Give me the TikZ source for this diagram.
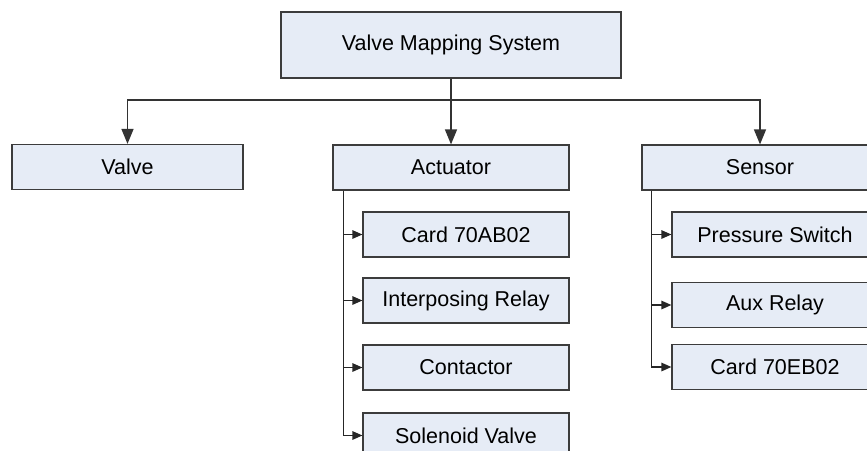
\documentclass[tikz,border=0pt]{standalone}
\usepackage{fontspec}
\setmainfont{Liberation Sans}
\usetikzlibrary{arrows.meta}
\definecolor{boxfill}{RGB}{230,236,246}
\definecolor{boxline}{RGB}{60,60,60}
\begin{document}
\begin{tikzpicture}[x=1pt, y=-1pt,
    block/.style ={rectangle, draw=boxline, line width=1.2pt, fill=boxfill, inner sep=0pt,
                   minimum height=45pt, font=\fontsize{21.5}{25}\selectfont},
    link/.style ={draw=black!80, line width=1.4pt, -{Triangle[length=15pt,width=12pt]}},
    sublink/.style ={draw=black!85, line width=1.3pt, -{Triangle[length=10pt,width=8.5pt]}}]
   \useasboundingbox (0,0) rectangle (867,450);
   \clip (0,0) rectangle (867,450);

   \node[block, minimum width=340pt, minimum height=66pt] (system) at (451,45) {Valve Mapping System};
   \node[block, minimum width=231pt] (valve) at (127.5,167) {Valve};
   \node[block, minimum width=236pt] (actuator) at (451,167.5) {Actuator};
   \node[block, minimum width=236pt] (sensor) at (760,167.5) {Sensor};

   \node[block, minimum width=206pt] (card1) at (466,234.5) {Card 70AB02};
   \node[block, minimum width=206pt] (relay1) at (466,300.5) {Interposing Relay};
   \node[block, minimum width=206pt] (contactor) at (466,367.5) {Contactor};
   \node[block, minimum width=206pt] (solenoid) at (466,435.5) {Solenoid Valve};

   \node[block, minimum width=206pt] (pressure) at (775,234.5) {Pressure Switch};
   \node[block, minimum width=206pt] (relay2) at (775,305) {Aux Relay};
   \node[block, minimum width=206pt] (card2) at (775,367) {Card 70EB02};

   \coordinate (bus) at (451,100);
   \draw[draw=black!80, line width=1.4pt] (system.south) -- (bus);
   \draw[link] (bus) -| (valve.north);
   \draw[link] (bus) -- (actuator.north);
   \draw[link] (bus) -| (sensor.north);

   \draw[sublink] ([xshift=11pt]actuator.south west) |- (card1.west);
   \draw[sublink] ([xshift=11pt]actuator.south west) |- (relay1.west);
   \draw[sublink] ([xshift=11pt]actuator.south west) |- (contactor.west);
   \draw[sublink] ([xshift=11pt]actuator.south west) |- (solenoid.west);

   \draw[sublink] ([xshift=10pt]sensor.south west) |- (pressure.west);
   \draw[sublink] ([xshift=10pt]sensor.south west) |- (relay2.west);
   \draw[sublink] ([xshift=10pt]sensor.south west) |- (card2.west);
 \end{tikzpicture}
\end{document}
